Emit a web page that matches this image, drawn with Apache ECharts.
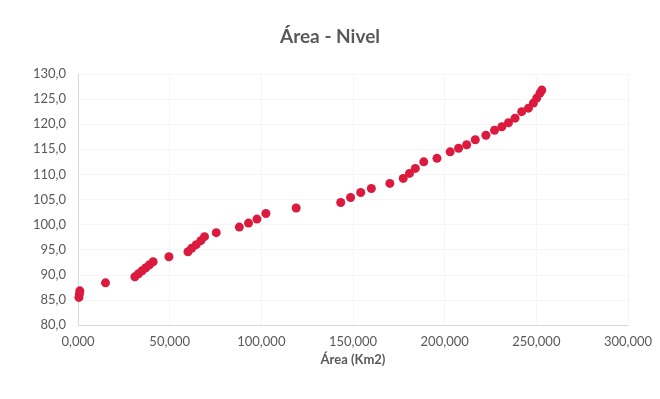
<!DOCTYPE html>
<html>
<head>
<meta charset="utf-8">
<script src="https://cdn.jsdelivr.net/npm/echarts@6/dist/echarts.min.js"></script>
<style>
  html, body { margin: 0; padding: 0; background: #fff; }
  #chart { width: 660px; height: 399px; }
</style>
</head>
<body>
<div id="chart"></div>
<script>
// Área (miles de Km2) vs Nivel
const areaValues = [
  0.5, 0.8, 1.0, 15.0,
  31, 33, 35, 37, 39, 41,
  49.6, 60, 62, 64.5, 67, 69, 75.4,
  88, 93, 97.6, 102.5, 119,
  143.3, 148.7, 154.2, 160, 170.1, 177.4, 180.8, 184,
  188.6, 195.8, 203, 207.6, 212, 216.7, 222.5, 227.2, 231.2, 234.8,
  238.4, 242, 245.7, 248.4, 250.2, 252, 253
]
const nivelValues = [
  85.5, 86.2, 86.8, 88.4,
  89.6, 90.2, 90.8, 91.4, 92.0, 92.6,
  93.6, 94.6, 95.3, 96.0, 96.8, 97.6, 98.4,
  99.5, 100.3, 101.1, 102.2, 103.3,
  104.4, 105.4, 106.4, 107.2, 108.2, 109.2, 110.2, 111.2,
  112.5, 113.2, 114.5, 115.2, 115.9, 116.9, 117.8, 118.8, 119.5, 120.3,
  121.2, 122.5, 123.2, 124.2, 125.2, 126.2, 126.8
]

const chart = echarts.init(document.getElementById('chart'))

const labelColor = '#595959'
const fontFamily = 'Lato, "Open Sans", sans-serif'

chart.setOption({
  animation: false,
  title: {
    text: 'Área - Nivel',
    left: 'center',
    top: 22,
    textStyle: { fontFamily, fontSize: 19, fontWeight: 'bold', color: labelColor }
  },
  grid: { left: 78, right: 32, top: 74, bottom: 74 },
  xAxis: {
    type: 'value',
    min: 0,
    max: 300,
    interval: 50,
    name: 'Área (Km2)',
    nameLocation: 'middle',
    nameGap: 28,
    nameTextStyle: { fontFamily, fontSize: 13, fontWeight: 'bold', color: labelColor },
    axisLine: { show: true, lineStyle: { color: '#d9d9d9' } },
    axisTick: { show: false },
    splitLine: { show: true, lineStyle: { color: '#f5f5f5' } },
    axisLabel: {
      fontFamily, fontSize: 13, color: labelColor, margin: 10,
      formatter: v => v.toFixed(3).replace('.', ',')
    }
  },
  yAxis: {
    type: 'value',
    min: 80,
    max: 130,
    interval: 5,
    axisLine: { show: true, lineStyle: { color: '#d9d9d9' } },
    axisTick: { show: false },
    splitLine: { show: true, lineStyle: { color: '#f5f5f5' } },
    axisLabel: {
      fontFamily, fontSize: 13, color: labelColor, margin: 12,
      formatter: v => v.toFixed(1).replace('.', ',')
    }
  },
  series: [{
    type: 'scatter',
    symbolSize: 9,
    itemStyle: { color: '#dc1a3e', opacity: 1 },
    data: areaValues.map((a, i) => [a, nivelValues[i]])
  }]
})
</script>
</body>
</html>
